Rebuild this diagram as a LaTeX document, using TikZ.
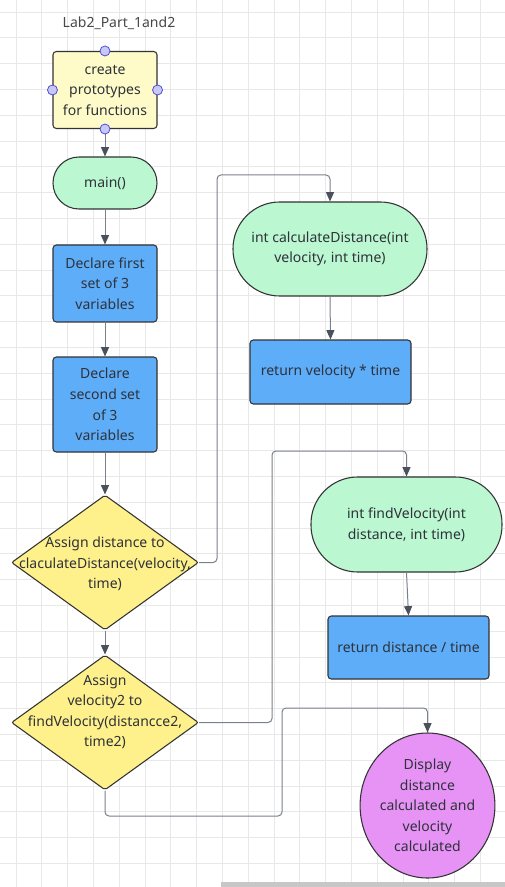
\documentclass[tikz,border=0pt]{standalone}
\usepackage{fontspec}
\setmainfont{Noto Sans}
\usetikzlibrary{shapes.geometric,arrows.meta}
\definecolor{gridc}{HTML}{E8E8E8}
\definecolor{protoc}{HTML}{FEFBC8}
\definecolor{greenc}{HTML}{BBF7D0}
\definecolor{bluec}{HTML}{5DADF9}
\definecolor{yelc}{HTML}{FEF08A}
\definecolor{violc}{HTML}{E693F5}
\definecolor{linec}{HTML}{7A808C}
\definecolor{headc}{HTML}{4A505C}
\definecolor{txtc}{HTML}{2E323A}
\definecolor{handlef}{HTML}{C8C8F8}
\definecolor{handled}{HTML}{5050D0}
\tikzset{
  base/.style={draw=black!80, line width=0.8pt, text=txtc, align=center, inner sep=0pt,
    font=\fontsize{10.5}{15.4}\selectfont},
  protobox/.style={base, fill=protoc, rounded corners=2.5pt, minimum width=78pt, minimum height=57.75pt},
  bluebox/.style={base, fill=bluec, rounded corners=2.5pt, minimum width=78pt},
  stadium/.style={base, fill=greenc, rounded corners=#1},
  dia/.style={base, shape=diamond, fill=yelc, minimum width=140.25pt, minimum height=101.25pt, rounded corners=1.5pt},
  txt/.style={text=txtc, align=center, inner sep=0pt, font=\fontsize{10.5}{15.4}\selectfont},
  handle/.style={circle, draw=handled, fill=handlef, line width=0.6pt, minimum size=7.5pt, inner sep=0pt},
  conn/.style={draw=linec, line width=0.75pt, rounded corners=3pt,
    -{Triangle[length=7pt,width=6pt,fill=headc,color=headc]}},
}
\begin{document}
\begin{tikzpicture}[x=0.75pt,y=-0.75pt]
\useasboundingbox (0,0) rectangle (505,887);
\fill[white] (0,0) rectangle (505,887);
% grid
\foreach \i in {0,...,19} {\draw[gridc, line width=0.7pt] ({16+25.8*\i},0) -- ({16+25.8*\i},887);}
\foreach \j in {0,...,34} {\draw[gridc, line width=0.7pt] (0,{12+25.8*\j}) -- (505,{12+25.8*\j});}
% scrollbar
\fill[black!22] (221,882) rectangle (505,887);

\node[txt, text=black!72] (title) at (119,23) {Lab2\_Part\_1and2};

\node[protobox] (proto) at (105,90) {create\\prototypes\\for functions};
\node[stadium=19.5pt, minimum width=78pt, minimum height=39pt] (main) at (105,183) {main()};
\node[bluebox, minimum height=57.75pt] (decl1) at (105,283.5) {Declare first\\set of 3\\variables};
\node[bluebox, minimum height=71.25pt] (decl2) at (105,404.5) {Declare\\second set\\of 3\\variables};
\node[dia] (d1) at (105,562.5) {};
\node[txt] (d1t) at (105,564) {Assign distance to\\claculateDistance(velocity,\\time)};
\node[dia] (d2) at (105,722.5) {};
\node[txt] (d2t) at (105,712) {Assign\\velocity2 to\\findVelocity(distancce2,\\time2)};

\node[stadium=35pt, minimum width=145.5pt, minimum height=70.5pt] (calc) at (330,249) {int calculateDistance(int\\velocity, int time)};
\node[bluebox, minimum width=120.75pt, minimum height=48pt] (retv) at (330.5,372) {return velocity * time};
\node[stadium=35pt, minimum width=143.25pt, minimum height=71.25pt] (findv) at (406.5,524.5) {int findVelocity(int\\distance, int time)};
\node[bluebox, minimum width=120.75pt, minimum height=47.25pt] (retd) at (408.5,647.5) {return distance / time};
\node[base, ellipse, fill=violc, minimum width=96.75pt, minimum height=108.75pt] (disp) at (427.5,805.5) {Display\\distance\\calculated and\\velocity\\calculated};

% handles
\node[handle] (h1) at (proto.north) {};
\node[handle] (h2) at (proto.west) {};
\node[handle] (h3) at (proto.east) {};

% connectors
\draw[conn] (proto.south) -- (main.north);
\node[handle] (h4) at (proto.south) {};
\draw[conn] (main.south) -- (decl1.north);
\draw[conn] (decl1.south) -- (decl2.north);
\draw[conn] (decl2.south) -- (d1.north);
\draw[conn] (d1.south) -- (d2.north);
\draw[conn] (calc.south) -- (retv.north);
\draw[conn] (findv.south) -- (retd.north);
\coordinate (k1) at (217,175);
\draw[conn] (d1.east) -| (k1) -| (calc.north);
\coordinate (k2) at (272,451);
\draw[conn] (d2.east) -| (k2) -| (findv.north);
\coordinate (k3) at (282,816);
\coordinate (k4) at (282,708);
\draw[conn] (d2.south) |- (k3) -- (k4) -| (disp.north);
\end{tikzpicture}
\end{document}
